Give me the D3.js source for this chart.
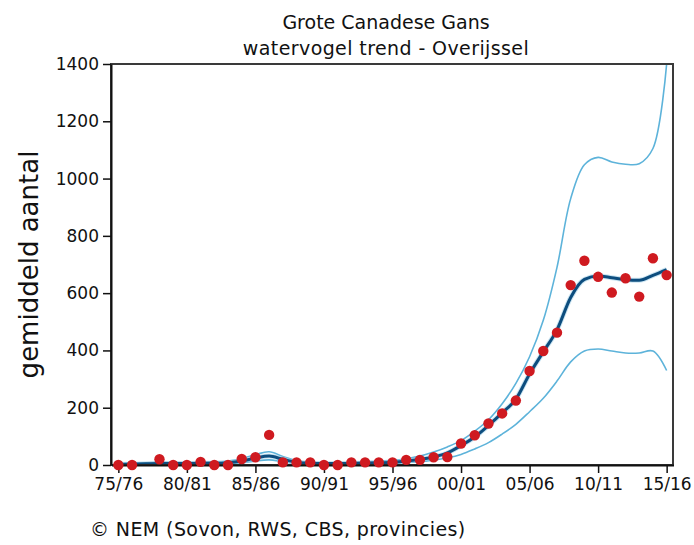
<!DOCTYPE html>
<html>
<head>
<meta charset="utf-8">
<script src="https://cdn.jsdelivr.net/npm/d3@7"></script>
<style>
  html, body { margin: 0; padding: 0; background: #fff; }
  svg { display: block; font-family: "DejaVu Sans", Verdana, sans-serif; }
</style>
</head>
<body>
<svg id="chart" width="694" height="545"></svg>
<script>
const years = d3.range(1975, 2016);
const observed = [0, 0, null, 20, 0, 0, 11, 0, 0, 21, 27, 105, 9, 9, 9, 0, 0, 9, 9, 9,
  9, 18, 18, 27, 28, 75, 104, 145, 180, 225, 328, 398, 462, 628, 713, 657, 602, 652, 588, 722, 663];
const trend = [2, 3, 4, 5, 5, 5, 6, 6, 8, 14, 24, 31, 20, 10, 6, 5, 5, 6, 7, 8,
  10, 14, 20, 28, 42, 68, 98, 138, 182, 230, 318, 395, 472, 585, 648, 660, 654, 647, 645, 662, 682];
const upper = [6, 7, 8, 9, 9, 9, 10, 11, 14, 22, 36, 46, 30, 16, 10, 8, 8, 9, 11, 13,
  16, 22, 31, 45, 63, 85, 118, 158, 214, 285, 378, 505, 690, 930, 1048, 1074, 1058, 1050, 1052, 1105, 1400];
const lower = [0, 0, 0, 1, 1, 1, 1, 1, 2, 7, 14, 18, 11, 5, 3, 2, 2, 3, 4, 5,
  6, 8, 12, 17, 25, 37, 56, 78, 108, 142, 186, 233, 293, 360, 398, 405, 398, 391, 391, 398, 330];
const xTickYears = [1975, 1980, 1985, 1990, 1995, 2000, 2005, 2010, 2015];
const xTickLabels = ["75/76", "80/81", "85/86", "90/91", "95/96", "00/01", "05/06", "10/11", "15/16"];
const yTicks = [0, 200, 400, 600, 800, 1000, 1200, 1400];
const titleLines = ["Grote Canadese Gans", "watervogel trend - Overijssel"];
const yLabel = "gemiddeld aantal";
const footer = "\u00A9 NEM (Sovon, RWS, CBS, provincies)";

const svg = d3.select("#chart");
const L = 111, R = 673, T = 64, B = 465;

const x = d3.scaleLinear().domain([1974.5, 2015.5]).range([L + 0.5, R + 0.5]);
const y = d3.scaleLinear().domain([0, 1400]).range([B, T]);

svg.append("rect").attr("width", 694).attr("height", 545).attr("fill", "#fff");

svg.append("defs").append("clipPath").attr("id", "clip")
  .append("rect").attr("x", L).attr("y", T).attr("width", R - L).attr("height", B - T);

const plot = svg.append("g").attr("clip-path", "url(#clip)");

const mk = (arr, curve) => d3.line()
  .defined((d, i) => arr[i] != null)
  .x((d, i) => x(years[i]))
  .y((d, i) => y(arr[i]))
  .curve(curve);

const ciCurve = d3.curveCatmullRom.alpha(0.5);
plot.append("path").datum(years).attr("d", mk(upper, ciCurve))
  .attr("fill", "none").attr("stroke", "#5db3da").attr("stroke-width", 1.6);
plot.append("path").datum(years).attr("d", mk(lower, ciCurve))
  .attr("fill", "none").attr("stroke", "#5db3da").attr("stroke-width", 1.6);
plot.append("path").datum(years).attr("d", mk(trend, d3.curveMonotoneX))
  .attr("fill", "none").attr("stroke", "#a9d3ea").attr("stroke-width", 5).attr("opacity", 0.6);
plot.append("path").datum(years).attr("d", mk(trend, d3.curveMonotoneX))
  .attr("fill", "none").attr("stroke", "#0d4d7e").attr("stroke-width", 3);

// Frame
svg.append("rect").attr("x", L).attr("y", T).attr("width", R - L).attr("height", B - T)
  .attr("fill", "none").attr("stroke", "#3a3a3a").attr("stroke-width", 2);

// Axes
const yAxis = d3.axisLeft(y).tickValues(yTicks).tickFormat(d3.format("d"))
  .tickSize(8).tickPadding(4).tickSizeOuter(0);
const gy = svg.append("g").attr("transform", `translate(${L},0)`).call(yAxis);
const xAxis = d3.axisBottom(x).tickValues(xTickYears).tickFormat((d, i) => xTickLabels[i])
  .tickSize(8).tickPadding(5).tickSizeOuter(0);
const gx = svg.append("g").attr("transform", `translate(0,${B})`).call(xAxis);
[gx, gy].forEach(g => {
  g.select(".domain").attr("stroke", "#111").attr("stroke-width", 2);
  g.selectAll(".tick line").attr("stroke", "#111").attr("stroke-width", 1.5);
  g.selectAll(".tick text").attr("font-family", "DejaVu Sans").attr("font-size", 17).attr("fill", "#111");
});

// Points
svg.append("g").selectAll("circle")
  .data(years.filter((d, i) => observed[i] != null))
  .join("circle")
  .attr("cx", d => x(d))
  .attr("cy", d => y(observed[years.indexOf(d)]))
  .attr("r", 5.2)
  .attr("fill", "#cf1a20");

// Titles
const cx = (L + R) / 2 - 6;
svg.append("text").attr("x", cx).attr("y", 29).attr("text-anchor", "middle")
  .attr("font-size", 19).attr("fill", "#111").text(titleLines[0]);
svg.append("text").attr("x", cx).attr("y", 55).attr("text-anchor", "middle")
  .attr("font-size", 19).attr("letter-spacing", 0.4).attr("fill", "#111").text(titleLines[1]);

svg.append("text").attr("transform", `translate(38,${(T + B) / 2}) rotate(-90)`)
  .attr("text-anchor", "middle").attr("font-size", 26).attr("fill", "#111").text(yLabel);

svg.append("text").attr("x", 90).attr("y", 536)
  .attr("font-size", 19).attr("letter-spacing", 0.4).attr("fill", "#111").text(footer);
</script>
</body>
</html>
